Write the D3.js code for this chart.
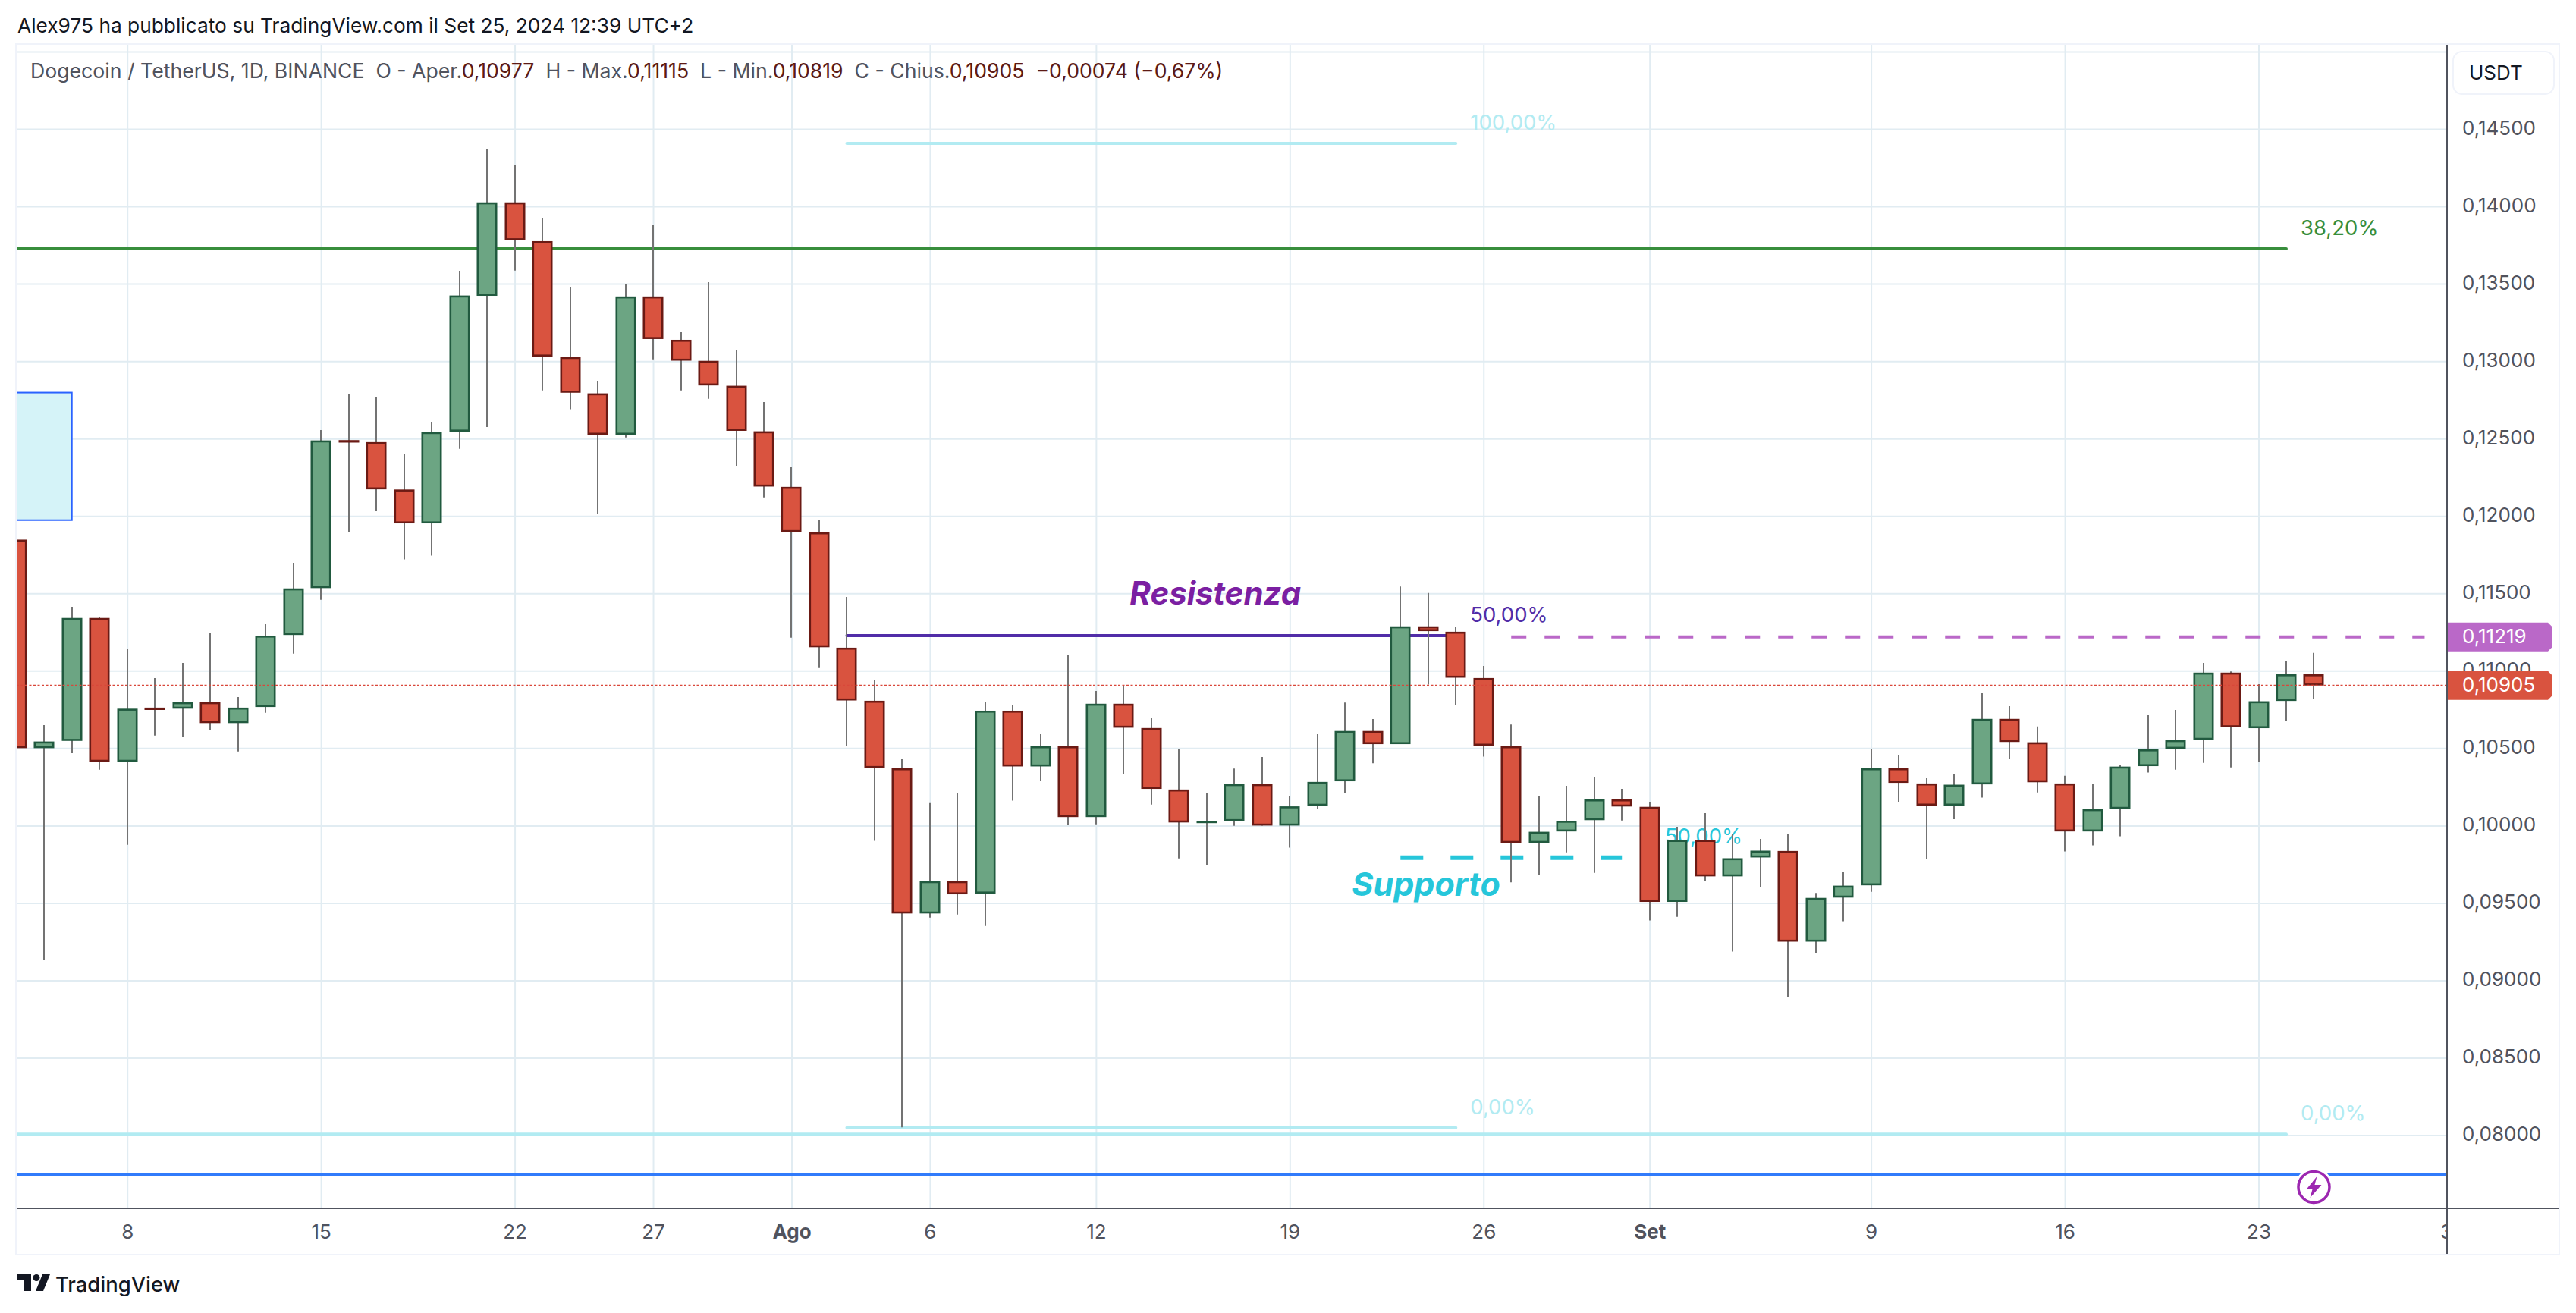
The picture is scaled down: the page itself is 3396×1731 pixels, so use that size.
<!DOCTYPE html>
<html>
<head>
<meta charset="utf-8">
<script src="https://d3js.org/d3.v7.min.js"></script>
<style>
    html, body { margin: 0; background: #fff; }
    svg { display: block; }
    text { font-family: Inter, "Noto Sans", sans-serif; white-space: pre; }
</style>
</head>
<body>
<div id="my_dataviz"></div>
<script>
    // daily candles, 4 Jul 2024 -> 25 Sep 2024
    var firstDay = "2024-07-04", lastDay = "2024-09-25";

    var open = [
        .11847,.10500,.10547,.11341,.10412,.10762,.10755,.10797,.10662,.10766,.11231,.11534,.12490,.12477,.12171,.11952,.12545,.13422,.14026,.13775,.13027,.12792,.12525,.13418,.13138,.13002,.12841,.12547,
        .12188,.11894,.11149,.10806,.10370,.09432,.09641,.09561,.10742,.10382,.10512,.10055,.10787,.10630,.10233,.10021,.10029,.10268,.10000,.10128,.10286,.10611,.10526,.11287,.11252,.10953,.10512,.09888,.09962,.10035,.10169,
        .10121,.09507,.09907,.09672,.09794,.09836,.09250,.09535,.09614,.10370,.10272,.10129,.10266,.10689,.10538,.10272,.09962,.10108,.10384,.10496,.10554,.10988,.10629,.10805,.10977];
    var high = [
        .11913,.10649,.11413,.11350,.11139,.10953,.11050,.11246,.10830,.11301,.11697,.12555,.12785,.12771,.12398,.12604,.13584,.14373,.14270,.13927,.13481,.12873,.13495,.13878,.13187,.13510,.13069,.12736,
        .12315,.11977,.11477,.10942,.10429,.10150,.10208,.10801,.10781,.10590,.11099,.10869,.10905,.10693,.10492,.10208,.10368,.10443,.10193,.10590,.10795,.10688,.11544,.11502,.11283,.11031,.10653,.10188,.10257,.10316,.10237,
        .10154,.09992,.10080,.09946,.09914,.09943,.09565,.09698,.10492,.10457,.10306,.10330,.10856,.10771,.10640,.10322,.10267,.10390,.10713,.10747,.11051,.10995,.10914,.11065,.11115];
    var low = [
        .10384,.09135,.10468,.10361,.09876,.10582,.10571,.10617,.10479,.10729,.11110,.11459,.11894,.12030,.11719,.11744,.12433,.12575,.13585,.12811,.12689,.12013,.12507,.13012,.12811,.12757,.12321,.12120,
        .11213,.11018,.10516,.09902,.08051,.09406,.09425,.09351,.10161,.10287,.10004,.10008,.10335,.10136,.09788,.09745,.09998,.10000,.09857,.10107,.10212,.10402,.10526,.10911,.10778,.10445,.09633,.09681,.09827,.09695,.10033,
        .09387,.09411,.09639,.09186,.09601,.08891,.09175,.09382,.09572,.10154,.09784,.10041,.10181,.10430,.10214,.09833,.09872,.09931,.10342,.10361,.10405,.10376,.10411,.10675,.10819];
    var close = [
        .10500,.10543,.11341,.10412,.10755,.10753,.10797,.10662,.10762,.11227,.11532,.12488,.12474,.12172,.11952,.12542,.13424,.14026,.13781,.13030,.12796,.12525,.13418,.13143,.13003,.12843,.12550,.12190,
        .11896,.11152,.10808,.10372,.09432,.09641,.09556,.10742,.10382,.10512,.10055,.10787,.10632,.10237,.10020,.10031,.10268,.10000,.10124,.10282,.10611,.10526,.11287,.11256,.10955,.10516,.09888,.09960,.10031,.10169,.10123,
        .09507,.09907,.09672,.09789,.09838,.09250,.09533,.09612,.10370,.10276,.10129,.10264,.10689,.10540,.10280,.09962,.10106,.10381,.10492,.10552,.10988,.10635,.10803,.10977,.10905];

    // axis ticks
    var priceTicks = [.145,.14,.135,.13,.125,.12,.115,.11,.105,.10,.095,.09,.085,.08];
    var priceGrid = [.15].concat(priceTicks);
    var dateTicks = ["2024-07-08","2024-07-15","2024-07-22","2024-07-27","2024-08-01","2024-08-06","2024-08-12","2024-08-19","2024-08-26","2024-09-01","2024-09-09","2024-09-16","2024-09-23","2024-09-30"];
    var dateLabels = ["8","15","22","27","Ago","6","12","19","26","Set","9","16","23","30"];
    var boldLabels = ["Ago","Set"];

    // levels drawn on top of the chart: start, end, price, label
    var levelStart = ["2024-07-01","2024-08-03","2024-08-03","2024-08-03","2024-07-01"];
    var levelEnd   = ["2024-09-24","2024-08-25","2024-08-25","2024-08-25","2024-09-24"];
    var levelPrice = [.13726,.14407,.11227,.08048,.08007];
    var levelLabel = ["38,20%","100,00%","50,00%","0,00%","0,00%"];
    var levelColor = ["#388e3c","#b2ebf2","#512da8","#b2ebf2","#b2ebf2"];

    var supportPrice = .09793, supportDays = ["2024-08-23","2024-08-31"];
    var resistPrice = .11219, resistDays = ["2024-08-27","2024-09-29"];
    var bluePrice = .07743;
    var boxPrices = [.12797,.11973], boxDays = ["2024-07-01","2024-07-06"];
    var lastPrice = .10905;

    var legendItems = [
        ["Dogecoin / TetherUS, 1D, BINANCE  O - Aper.", "#50535e"], ["0,10977", "#5d1a14"],
        ["  H - Max.", "#50535e"], ["0,11115", "#5d1a14"],
        ["  L - Min.", "#50535e"], ["0,10819", "#5d1a14"],
        ["  C - Chius.", "#50535e"], ["0,10905", "#5d1a14"],
        ["  −0,00074 (−0,67%)", "#5d1a14"]];

    var W = 3396, H = 1731,
        left = 22, right = 3226, top_ = 59, bottom = 1593, frameR = 3374, frameB = 1654;

    var parseDay = d3.utcParse("%Y-%m-%d");
    var days = d3.utcDay.range(parseDay(firstDay), d3.utcDay.offset(parseDay(lastDay), 1));
    var candles = days.map(function(d, i) {
        return {date: d, o: open[i], h: high[i], l: low[i], c: close[i]};
    });

    var x = d3.scaleUtc()
        .domain([parseDay("2024-07-08"), parseDay("2024-09-23")])
        .range([167.7, 2977.5]);
    var y = d3.scaleLinear()
        .domain([.145, .08])
        .range([170, 1496.6]);

    var fmt = d3.formatLocale({decimal: ",", thousands: ".", grouping: [3], currency: ["", ""]}).format(".5f");

    var svg = d3.select("#my_dataviz").append("svg")
        .attr("width", W).attr("height", H)
        .style("background", "#fff");

    var defs = svg.append("defs");
    defs.append("clipPath").attr("id", "pane").append("rect")
        .attr("x", left).attr("y", top_).attr("width", right - left).attr("height", bottom - top_);
    defs.append("clipPath").attr("id", "timeAxis").append("rect")
        .attr("x", left).attr("y", bottom).attr("width", right - left).attr("height", frameB - bottom);

    // outer frame
    svg.append("rect")
        .attr("x", left - 1).attr("y", top_ - 1)
        .attr("width", frameR - left + 1).attr("height", frameB - top_ + 1)
        .attr("fill", "none").attr("stroke", "#f0f3fa").attr("stroke-width", 2);

    var pane = svg.append("g").attr("clip-path", "url(#pane)");

    // grid
    var gridX = pane.append("g")
        .attr("transform", "translate(0," + bottom + ")")
        .call(d3.axisBottom(x).tickValues(dateTicks.map(parseDay)).tickSize(top_ - bottom).tickFormat(""));
    var gridY = pane.append("g")
        .attr("transform", "translate(" + left + ",0)")
        .call(d3.axisRight(y).tickValues(priceGrid).tickSize(right - left).tickFormat(""));
    pane.selectAll(".domain").remove();
    pane.selectAll(".tick line").attr("stroke", "#e1ecf2").attr("stroke-width", 2);
    pane.selectAll(".tick text").remove();

    // tinted box cut by the left edge
    pane.append("rect")
        .attr("x", x(parseDay(boxDays[0])))
        .attr("y", y(boxPrices[0]))
        .attr("width", x(parseDay(boxDays[1])) - x(parseDay(boxDays[0])))
        .attr("height", y(boxPrices[1]) - y(boxPrices[0]))
        .attr("fill", "#d5f3f8").attr("stroke", "#2962ff").attr("stroke-width", 2);

    // blue line
    pane.append("line")
        .attr("x1", left).attr("x2", right)
        .attr("y1", y(bluePrice)).attr("y2", y(bluePrice))
        .attr("stroke", "#317bfb").attr("stroke-width", 4);

    // fib levels
    var levels = levelPrice.map(function(p, i) {
        return {start: parseDay(levelStart[i]), end: parseDay(levelEnd[i]), price: p, label: levelLabel[i], color: levelColor[i]};
    });
    pane.selectAll(".level").data(levels).enter().append("line")
        .attr("class", "level")
        .attr("x1", function(d) { return x(d.start); })
        .attr("x2", function(d) { return x(d.end); })
        .attr("y1", function(d) { return y(d.price); })
        .attr("y2", function(d) { return y(d.price); })
        .attr("stroke", function(d) { return d.color; })
        .attr("stroke-width", 4).attr("stroke-linecap", "round");
    pane.selectAll(".levelLabel").data(levels).enter().append("text")
        .attr("class", "levelLabel")
        .attr("x", function(d) { return x(d.end) + 19; })
        .attr("y", function(d) { return y(d.price) - 18; })
        .attr("fill", function(d) { return d.color; })
        .style("font-size", "27.5px")
        .text(function(d) { return d.label; });

    // dashed support and resistance
    pane.append("line")
        .attr("x1", x(parseDay(supportDays[0]))).attr("x2", x(parseDay(supportDays[1])))
        .attr("y1", y(supportPrice)).attr("y2", y(supportPrice))
        .attr("stroke", "#26c6da").attr("stroke-width", 6).attr("stroke-dasharray", "30 36");
    pane.append("text")
        .attr("x", x(parseDay("2024-09-01")) + 20)
        .attr("y", y(supportPrice) - 19)
        .attr("fill", "#26c6da").style("font-size", "27.5px")
        .text("50,00%");
    pane.append("line")
        .attr("x1", x(parseDay(resistDays[0]))).attr("x2", x(parseDay(resistDays[1])))
        .attr("y1", y(resistPrice)).attr("y2", y(resistPrice))
        .attr("stroke", "#ba68c8").attr("stroke-width", 4).attr("stroke-dasharray", "20 24");

    // candles
    var candle = pane.selectAll(".candle").data(candles).enter().append("g").attr("class", "candle");
    candle.append("line")
        .attr("x1", function(d) { return Math.round(x(d.date)); })
        .attr("x2", function(d) { return Math.round(x(d.date)); })
        .attr("y1", function(d) { return y(d.h); })
        .attr("y2", function(d) { return y(d.l); })
        .attr("stroke", "#737373").attr("stroke-width", 2);
    candle.append("rect")
        .attr("x", function(d) { return Math.round(x(d.date)) - 12.2; })
        .attr("width", 24.4)
        .attr("y", function(d) { return y(Math.max(d.o, d.c)) + 1.3; })
        .attr("height", function(d) { return Math.max(.5, y(Math.min(d.o, d.c)) - y(Math.max(d.o, d.c)) - 2.6); })
        .attr("fill", function(d) { return d.c >= d.o ? "#6ca583" : "#d9533f"; })
        .attr("stroke", function(d) { return d.c >= d.o ? "#215a3f" : "#6b1a14"; })
        .attr("stroke-width", 2.6);

    // last price line
    pane.append("line")
        .attr("x1", left).attr("x2", right)
        .attr("y1", y(lastPrice)).attr("y2", y(lastPrice))
        .attr("stroke", "#d9473a").attr("stroke-width", 2).attr("stroke-dasharray", "3 2.5");

    // chart notes
    pane.append("text")
        .attr("x", x(parseDay("2024-08-13")) + 8)
        .attr("y", y(.11428))
        .attr("fill", "#7b1fa2")
        .style("font-size", "42px").style("font-weight", "700").style("font-style", "italic")
        .text("Resistenza");
    pane.append("text")
        .attr("x", x(parseDay("2024-08-21")) + 9)
        .attr("y", y(.09544))
        .attr("fill", "#26c6da")
        .style("font-size", "43px").style("font-weight", "700").style("font-style", "italic")
        .text("Supporto");

    // lightning mark
    var mark = pane.append("g")
        .attr("transform", "translate(" + x(parseDay(lastDay)) + "," + (bottom - 28) + ")");
    mark.append("circle").attr("r", 21)
        .attr("fill", "#fff").attr("stroke", "#fff").attr("stroke-width", 8);
    mark.append("circle").attr("r", 20.5)
        .attr("fill", "#fff").attr("stroke", "#9c27b0").attr("stroke-width", 3.5);
    mark.append("path")
        .attr("d", "M4-14L-10 3H-2L-5 14L10-3H1Z")
        .attr("fill", "#9c27b0");

    // axis lines
    var axisColor = "#50535e";
    svg.append("line").attr("x1", left).attr("x2", frameR)
        .attr("y1", bottom).attr("y2", bottom)
        .attr("stroke", axisColor).attr("stroke-width", 2);
    svg.append("line").attr("x1", right).attr("x2", right)
        .attr("y1", top_).attr("y2", frameB - 1)
        .attr("stroke", axisColor).attr("stroke-width", 2);

    // time axis
    var timeAxis = svg.append("g")
        .attr("clip-path", "url(#timeAxis)")
        .append("g")
        .attr("transform", "translate(0," + bottom + ")")
        .call(d3.axisBottom(x).tickValues(dateTicks.map(parseDay)).tickSize(0)
            .tickFormat(function(d, i) { return dateLabels[i]; }));
    timeAxis.select(".domain").remove();
    timeAxis.selectAll("text")
        .attr("y", 40).attr("dy", 0)
        .attr("fill", "#50535e")
        .style("font-family", "Inter, sans-serif")
        .style("font-size", "26px")
        .style("font-weight", function(d, i) { return boldLabels.indexOf(dateLabels[i]) >= 0 ? 700 : 400; });

    // price axis
    var priceAxis = svg.append("g")
        .attr("transform", "translate(" + right + ",0)")
        .call(d3.axisRight(y).tickValues(priceTicks).tickSize(0).tickFormat(fmt));
    priceAxis.select(".domain").remove();
    priceAxis.selectAll("text")
        .attr("x", 20).attr("dy", 7).attr("y", 0)
        .attr("fill", "#50535e")
        .style("font-family", "Inter, sans-serif")
        .style("font-size", "26px");

    // price tags
    [[resistPrice, "#ba68c8"], [lastPrice, "#d9533f"]].forEach(function(t) {
        var py = y(t[0]);
        svg.append("path")
            .attr("d", d3.line()([[right + 1, py - 19], [right + 133, py - 19], [right + 138, py - 14], [right + 138, py + 14], [right + 133, py + 19], [right + 1, py + 19]]))
            .attr("fill", t[1]);
        svg.append("text")
            .attr("x", right + 20).attr("y", py + 8)
            .attr("fill", "#fff").style("font-size", "26px")
            .text(fmt(t[0]));
    });

    // USDT box
    svg.append("rect")
        .attr("x", 3234).attr("y", 68).attr("width", 133).attr("height", 56).attr("rx", 12)
        .attr("fill", "#fff").attr("stroke", "#f0f3fa").attr("stroke-width", 2);
    svg.append("text")
        .attr("x", 3255).attr("y", 105)
        .attr("fill", "#131722").style("font-size", "26px")
        .text("USDT");

    // headers
    svg.append("text")
        .attr("x", 23).attr("y", 43)
        .attr("fill", "#131722").style("font-size", "26.3px")
        .text("Alex975 ha pubblicato su TradingView.com il Set 25, 2024 12:39 UTC+2");

    var legend = svg.append("text")
        .attr("x", 40).attr("y", 103)
        .style("font-size", "26.65px");
    legend.selectAll("tspan").data(legendItems).enter().append("tspan")
        .attr("fill", function(d) { return d[1]; })
        .text(function(d) { return d[0]; });

    // logo
    var logo = svg.append("g").attr("transform", "translate(22,1680)").attr("fill", "#131722");
    logo.append("path").attr("d", "M0 0H19V22H10V8H0Z");
    logo.append("circle").attr("cx", 26).attr("cy", 4.5).attr("r", 4.5);
    logo.append("path").attr("d", "M34 0H44L35 22H25Z");
    svg.append("text")
        .attr("x", 73).attr("y", 1703)
        .attr("fill", "#131722").style("font-size", "27.4px").style("font-weight", "500")
        .text("TradingView");
</script>
</body>
</html>
